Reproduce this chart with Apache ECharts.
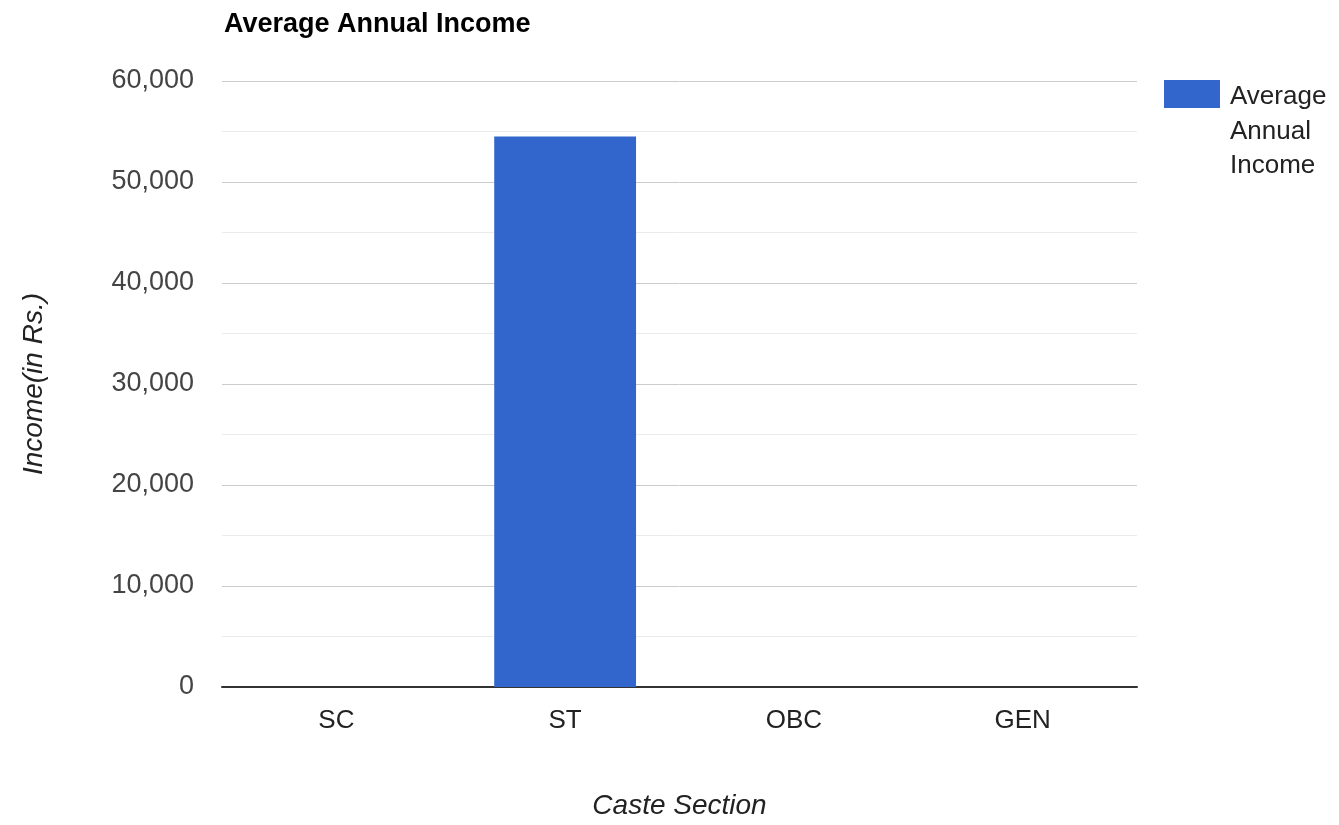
<!DOCTYPE html>
<html>
<head>
<meta charset="utf-8">
<script src="https://cdn.jsdelivr.net/npm/echarts@6/dist/echarts.min.js"></script>
<style>
html,body{margin:0;padding:0;background:#fff;}
#chart{width:1339px;height:825px;}
</style>
</head>
<body>
<div id="chart"></div>
<script>
const categories = ['SC', 'ST', 'OBC', 'GEN'];
const incomeValues = [0, 54500, 0, 0];
const seriesName = 'Average Annual Income';
const chartTitle = 'Average Annual Income';
const xAxisTitle = 'Caste Section';
const yAxisTitle = 'Income(in Rs.)';

const FONT = 'Arial, "Liberation Sans", sans-serif';
const chart = echarts.init(document.getElementById('chart'));
chart.setOption({
  animation: false,
  textStyle: { fontFamily: FONT },
  title: {
    text: chartTitle,
    left: 219, top: 6,
    textStyle: { fontFamily: FONT, fontSize: 27, fontWeight: 'bold', color: '#000' }
  },
  grid: { left: 222, right: 202, top: 81, bottom: 137, containLabel: false },
  xAxis: {
    type: 'category',
    data: categories,
    name: xAxisTitle,
    nameLocation: 'middle',
    nameGap: 105,
    nameTextStyle: { fontFamily: FONT, fontSize: 28, fontStyle: 'italic', color: '#222' },
    axisLine: { lineStyle: { color: '#333', width: 2 } },
    axisTick: { show: false },
    axisLabel: { fontFamily: FONT, fontSize: 26, color: '#222', margin: 21 },
    splitLine: { show: false }
  },
  yAxis: {
    type: 'value',
    min: 0, max: 60000, interval: 10000,
    name: yAxisTitle,
    nameLocation: 'middle',
    nameRotate: 90,
    nameGap: 174,
    nameTextStyle: { fontFamily: FONT, fontSize: 28, fontStyle: 'italic', color: '#222' },
    axisLine: { show: false },
    axisTick: { show: false },
    axisLabel: {
      fontFamily: FONT, fontSize: 27, color: '#444', margin: 28,
      formatter: v => v.toLocaleString('en-US')
    },
    splitLine: { lineStyle: { color: '#cccccc', width: 1 } },
    minorTick: { show: false, splitNumber: 2 },
    minorSplitLine: { show: true, lineStyle: { color: '#ebebeb', width: 1 } }
  },
  series: [{
    name: seriesName,
    type: 'bar',
    data: incomeValues,
    barWidth: '62%',
    itemStyle: { color: '#3366cc' },
    z: 3
  }],
  graphic: [
    { type: 'rect', left: 1164, top: 80, shape: { width: 56, height: 28 }, style: { fill: '#3366cc' } },
    { type: 'text', left: 1230, top: 80,
      style: { text: 'Average\nAnnual\nIncome', font: '26px ' + FONT, fill: '#222', lineHeight: 34.5 } }
  ]
});
</script>
</body>
</html>
